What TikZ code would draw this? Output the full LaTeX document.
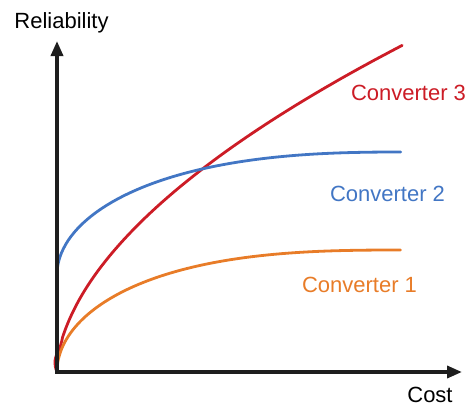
\documentclass[tikz,border=0pt]{standalone}
\usepackage{fontspec}
\setmainfont{Liberation Sans}
\usetikzlibrary{arrows.meta}
\definecolor{cred}{RGB}{204,28,38}
\definecolor{cblue}{RGB}{66,118,196}
\definecolor{corange}{RGB}{232,124,40}
\definecolor{caxis}{RGB}{30,30,30}
\tikzset{
  axis/.style={draw=caxis,line width=3.5pt,-{Triangle[length=15pt,width=12pt]}},
  curve/.style={line width=2.8pt,line cap=round,line join=round},
  lbl/.style={font=\fontsize{22}{24}\selectfont,anchor=base,inner sep=0pt},
}
\begin{document}
\begin{tikzpicture}[x=1pt,y=-1pt]
\useasboundingbox (0,0) rectangle (467,408);
\coordinate (O) at (57,372);
\coordinate (ytip) at (57,41);
\coordinate (xtip) at (462,372);
% curves
\draw[curve,cred] (O) .. controls (53.5,364) and (54.8,355) .. (59.2,351.7)
  -- plot[variable=\s,domain=0.08:1,samples=120,smooth] ({57+346*\s*\s},{372-327*pow(\s,1.1)});
\draw[curve,cblue] plot[variable=\s,domain=0:0.998,samples=140,smooth] ({57+346*\s*\s},{275-123*sqrt(1-pow(1-\s*\s,2.5))});
\draw[curve,corange] plot[variable=\s,domain=0.01:0.998,samples=140,smooth] ({57+346*\s*\s},{372-122*sqrt(1-pow(1-\s*\s,2.7))});
% axes
\draw[axis] (O) -- (ytip);
\draw[axis] ([xshift=-1.75pt]O) -- (xtip);
% labels
\node[lbl] (ylab) at (61.5,28) {Reliability};
\node[lbl] (xlab) at (430,402) {Cost};
\node[lbl,text=cred] (c3) at (408.5,100) {Converter 3};
\node[lbl,text=cblue] (c2) at (387.5,201) {Converter 2};
\node[lbl,text=corange] (c1) at (359.5,292) {Converter 1};
\end{tikzpicture}
\end{document}
